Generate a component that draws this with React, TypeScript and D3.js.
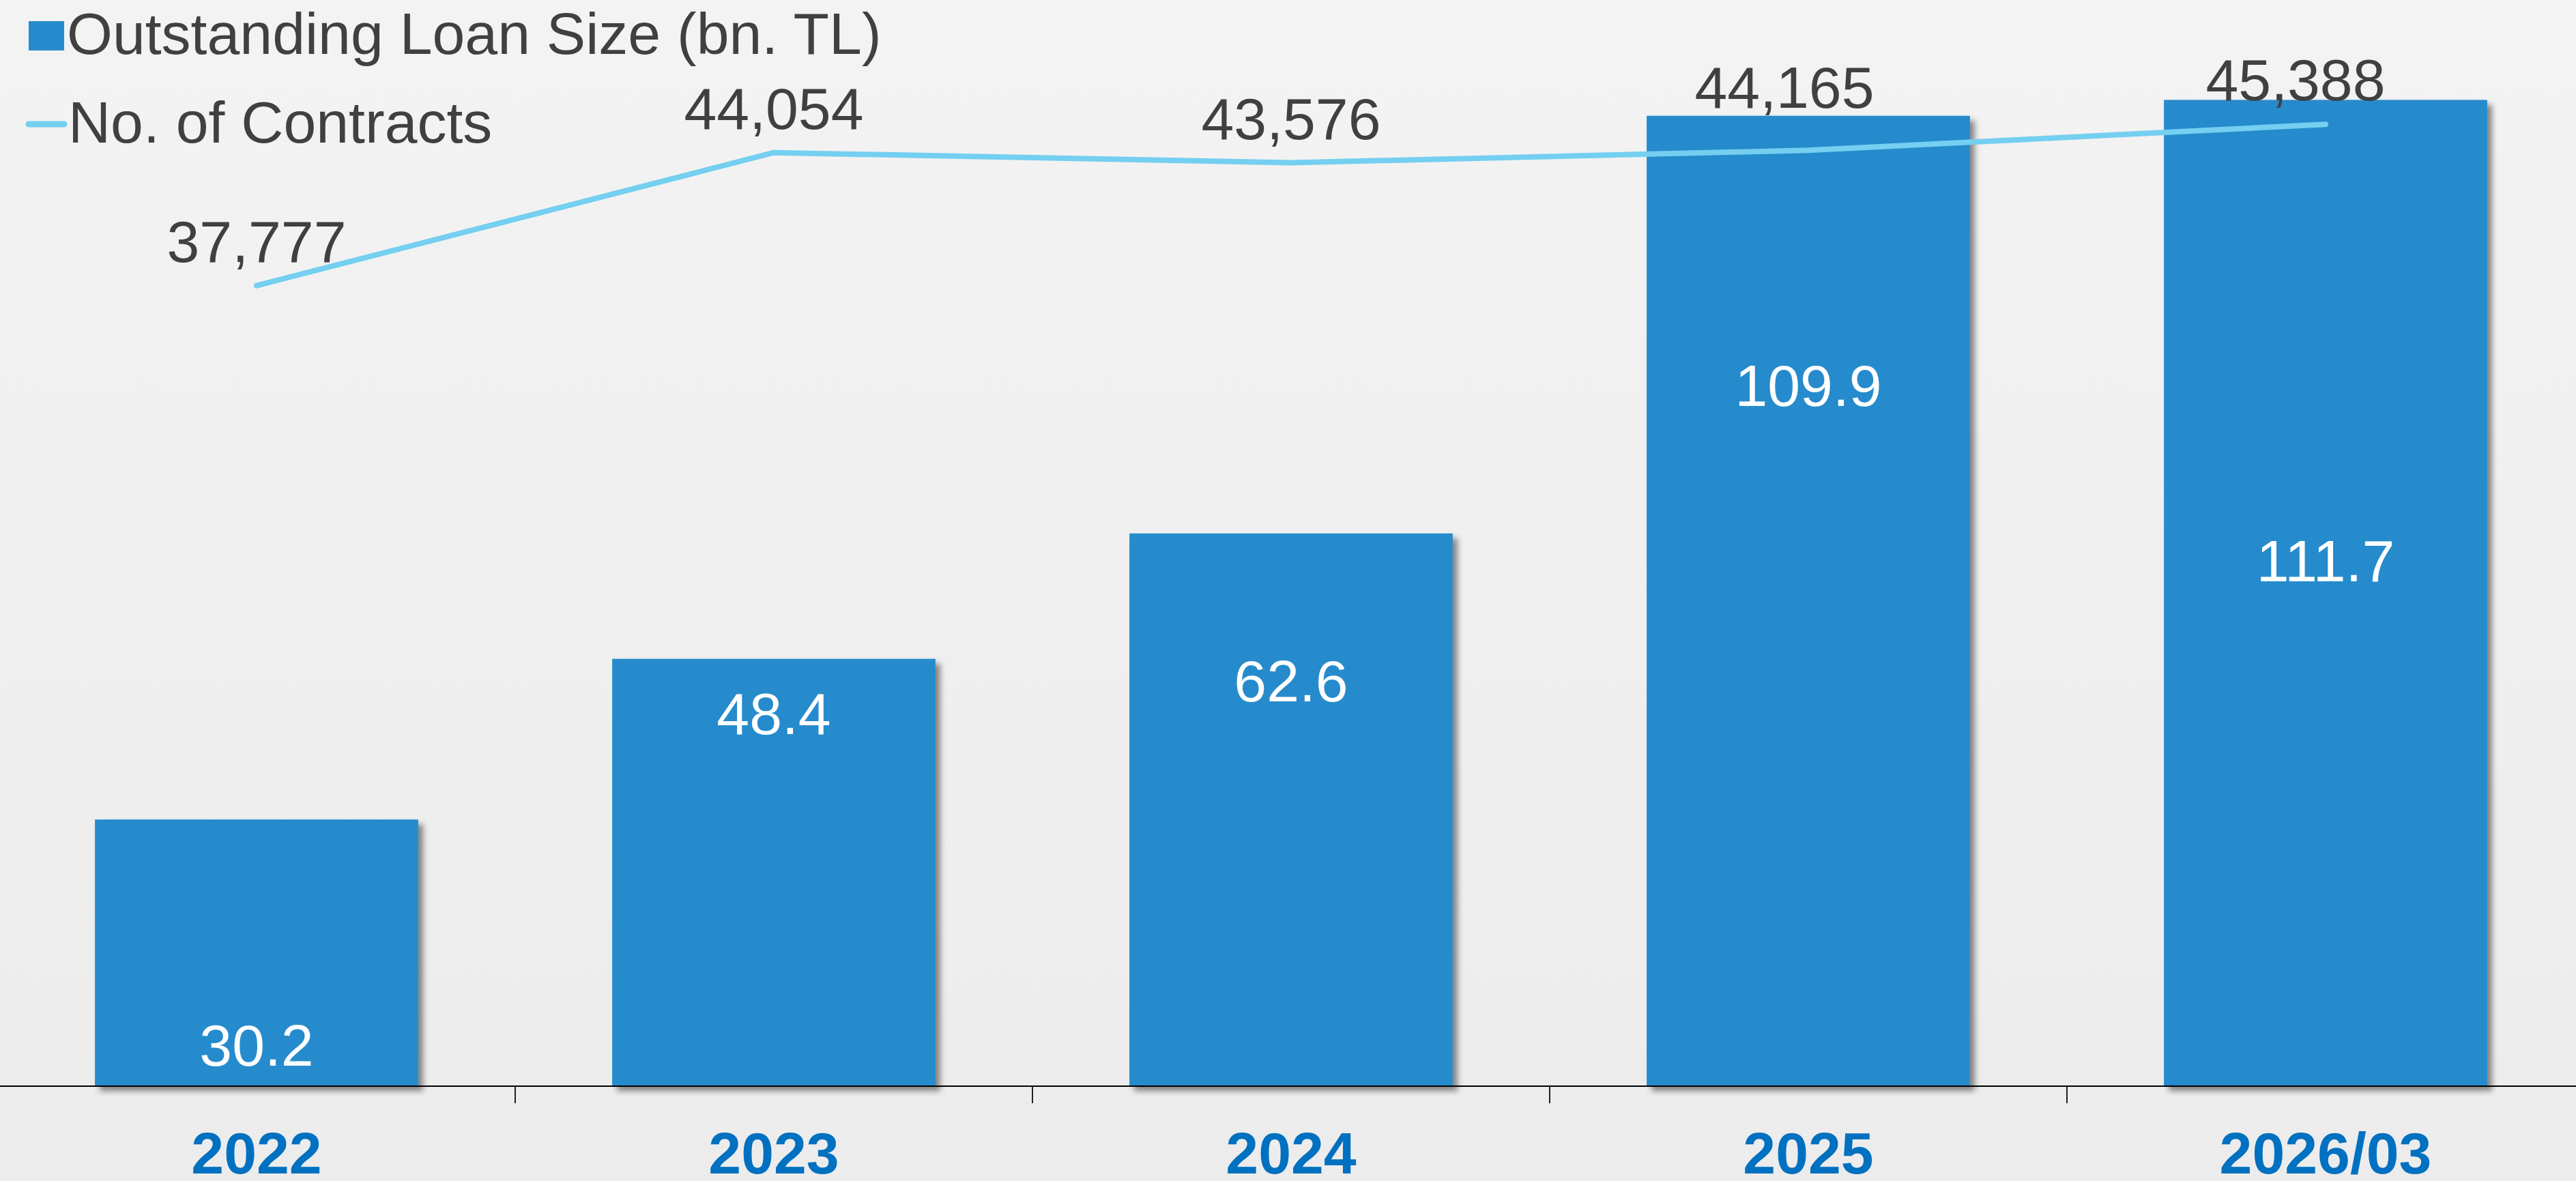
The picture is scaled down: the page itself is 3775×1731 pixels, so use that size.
import React from 'react';
import * as d3 from 'd3';

// ---- data ----
const categories = ['2022', '2023', '2024', '2025', '2026/03'];
const loanSize = [30.2, 48.4, 62.6, 109.9, 111.7];
const contracts = [37777, 44054, 43576, 44165, 45388];
const legendLabels = ['Outstanding Loan Size (bn. TL)', 'No. of Contracts'];

// ---- layout / style ----
const W = 3775;
const H = 1731;
const AXIS_Y = 1592;
const TOP = 39;
const BAR_COLOR = '#258BCC';
const LINE_COLOR = '#74CFF0';
const TEXT_COLOR = '#404040';
const AXIS_LABEL_COLOR = '#0070C0';
const FONT = '"Liberation Sans", Arial, Helvetica, sans-serif';
const FS = 86;
// label placement (fraction of bar height from the base, as placed in the original)
const barLabelFrac = [0.077, 0.824, 0.696, 0.701, 0.512];
// manual nudges of line labels [dx, dy]
const lineLabelNudge = [[0, 0], [0, 0], [0, 0], [-35, -27], [-44, 0]];

export default function App() {
  const x = d3
    .scaleBand<string>()
    .domain(categories)
    .range([-3, 3787])
    .paddingInner(0.375)
    .paddingOuter(0.1875);
  const yBar = d3.scaleLinear().domain([0, 120]).range([AXIS_Y, TOP]);
  const yLine = d3.scaleLinear().domain([0, 50000]).range([AXIS_Y, TOP]);
  const cx = (c: string) => (x(c) as number) + x.bandwidth() / 2;
  const gap = (x.step() - x.bandwidth()) / 2;

  const linePath = d3
    .line<number>()
    .x((_, i) => cx(categories[i]))
    .y((d) => yLine(d))(contracts) as string;

  const fmtInt = d3.format(',');
  const fmtDec = d3.format('.1f');

  return (
    <svg
      width={W}
      height={H}
      style={{ position: 'absolute', left: 0, top: 0, display: 'block' }}
      fontFamily={FONT}
    >
      <defs>
        <linearGradient id="bg" x1="0" y1="0" x2="0" y2="1">
          <stop offset="0" stopColor="#F3F3F3" />
          <stop offset="1" stopColor="#ECECEC" />
        </linearGradient>
        <filter id="shadow" x="-10%" y="-10%" width="130%" height="130%">
          <feDropShadow dx="7" dy="7" stdDeviation="4" floodColor="#000" floodOpacity="0.45" />
        </filter>
      </defs>
      <rect x={0} y={0} width={W} height={H} fill="url(#bg)" />

      {/* bars */}
      {loanSize.map((v, i) => (
        <rect
          key={'b' + i}
          x={x(categories[i])}
          y={yBar(v)}
          width={x.bandwidth()}
          height={AXIS_Y - yBar(v)}
          fill={BAR_COLOR}
          filter="url(#shadow)"
        />
      ))}

      {/* axis */}
      <line x1={0} x2={W} y1={AXIS_Y} y2={AXIS_Y} stroke="#000" strokeWidth={2} />
      {categories.slice(1).map((c, i) => (
        <line
          key={'t' + i}
          x1={(x(c) as number) - gap}
          x2={(x(c) as number) - gap}
          y1={AXIS_Y}
          y2={AXIS_Y + 25}
          stroke="#222"
          strokeWidth={2}
        />
      ))}
      {categories.map((c) => (
        <text
          key={'a' + c}
          x={cx(c)}
          y={1720}
          textAnchor="middle"
          fontSize={FS}
          fontWeight="bold"
          fill={AXIS_LABEL_COLOR}
        >
          {c}
        </text>
      ))}

      {/* bar labels */}
      {loanSize.map((v, i) => (
        <text
          key={'bl' + i}
          x={cx(categories[i])}
          y={AXIS_Y - barLabelFrac[i] * (AXIS_Y - yBar(v))}
          textAnchor="middle"
          fontSize={FS}
          fill="#FFFFFF"
        >
          {fmtDec(v)}
        </text>
      ))}

      {/* line */}
      <path
        d={linePath}
        fill="none"
        stroke={LINE_COLOR}
        strokeWidth={8}
        strokeLinecap="round"
        strokeLinejoin="round"
      />
      {contracts.map((v, i) => (
        <text
          key={'ll' + i}
          x={cx(categories[i]) + lineLabelNudge[i][0]}
          y={yLine(v) - 35 + lineLabelNudge[i][1]}
          textAnchor="middle"
          fontSize={FS}
          fill={TEXT_COLOR}
        >
          {fmtInt(v)}
        </text>
      ))}

      {/* legend */}
      <rect x={42} y={31} width={52} height={43} fill={BAR_COLOR} />
      <text x={98} y={79} fontSize={FS} fill={TEXT_COLOR}>
        {legendLabels[0]}
      </text>
      <line x1={42} x2={94} y1={182} y2={182} stroke={LINE_COLOR} strokeWidth={9} strokeLinecap="round" />
      <text x={100} y={209} fontSize={FS} fill={TEXT_COLOR}>
        {legendLabels[1]}
      </text>
    </svg>
  );
}
